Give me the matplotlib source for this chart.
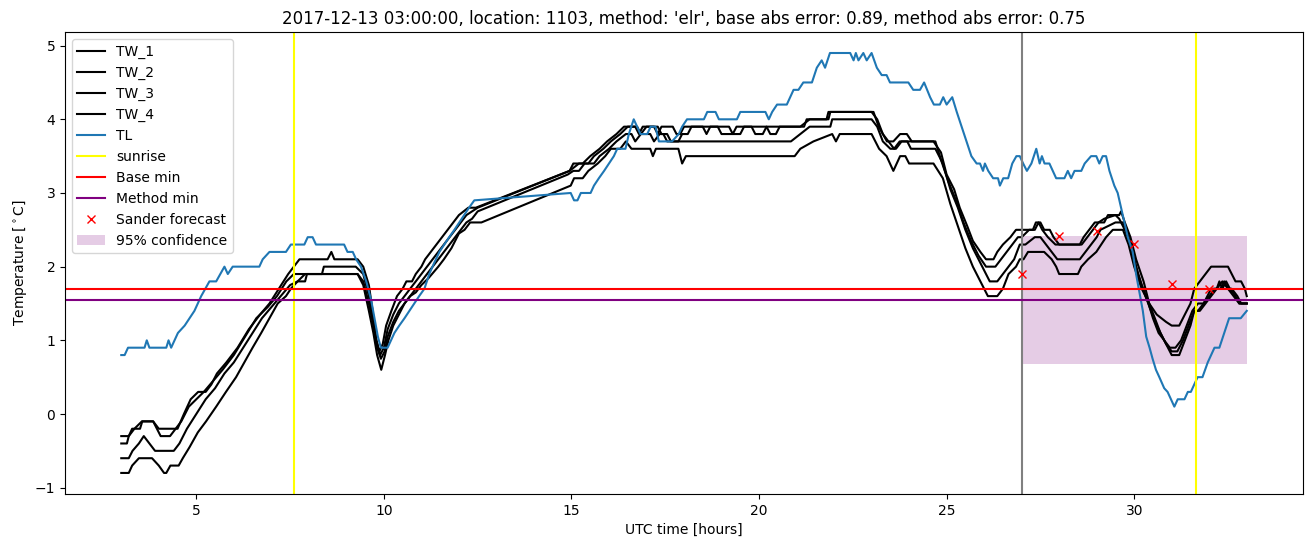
import numpy as np
import matplotlib
matplotlib.use('Agg')
import matplotlib.pyplot as plt

# (time [h], temperature [C])
tw1 = np.array([
    (3.0, -0.3), (3.2, -0.3), (3.29, -0.2), (3.5, -0.2), (3.56, -0.1), (3.85, -0.1), (4.0, -0.2), (4.5, -0.2),
    (4.67, 0.0), (4.85, 0.2), (5.05, 0.3), (5.25, 0.3), (5.4, 0.4), (5.55, 0.55), (5.8, 0.7), (6.1, 0.9),
    (6.4, 1.15), (6.7, 1.35), (6.95, 1.5), (7.2, 1.7), (7.45, 1.9), (7.6, 2.0), (7.75, 2.1), (8.5, 2.1),
    (8.6, 2.2), (8.68, 2.1), (9.3, 2.1), (9.45, 2.0), (9.6, 1.75), (9.7, 1.4), (9.8, 1.0), (9.88, 0.85),
    (9.97, 0.95), (10.06, 1.2), (10.2, 1.4), (10.35, 1.6), (10.5, 1.7), (10.6, 1.8), (10.75, 1.8), (10.85, 1.9),
    (11.0, 2.0), (11.1, 2.1), (11.25, 2.2), (11.4, 2.3), (11.55, 2.4), (11.7, 2.5), (11.85, 2.6), (12.0, 2.7),
    (12.25, 2.8), (12.45, 2.8), (14.95, 3.3), (15.05, 3.4), (15.3, 3.4), (15.5, 3.5), (15.75, 3.6), (15.95, 3.7),
    (16.2, 3.8), (16.4, 3.9), (16.7, 3.9), (16.8, 3.8), (16.9, 3.9), (17.2, 3.9), (17.3, 3.8), (17.4, 3.9),
    (17.7, 3.9), (17.8, 3.8), (17.9, 3.8), (18.0, 3.9), (18.5, 3.9), (18.6, 3.8), (18.7, 3.9), (19.2, 3.9),
    (19.3, 3.8), (19.4, 3.9), (21.2, 3.9), (21.27, 4.0), (21.8, 4.0), (21.85, 4.1), (23.05, 4.1), (23.19, 3.9),
    (23.41, 3.7), (23.58, 3.7), (23.76, 3.8), (23.94, 3.8), (24.07, 3.7), (24.65, 3.7), (24.85, 3.55), (25.0, 3.25),
    (25.2, 3.05), (25.35, 2.8), (25.55, 2.55), (25.7, 2.35), (25.9, 2.2), (26.05, 2.1), (26.25, 2.1), (26.35, 2.2),
    (26.5, 2.3), (26.7, 2.4), (26.85, 2.5), (27.3, 2.5), (27.38, 2.6), (27.5, 2.6), (27.6, 2.5), (27.75, 2.5),
    (27.85, 2.4), (28.0, 2.3), (28.55, 2.3), (28.65, 2.4), (28.8, 2.5), (28.95, 2.6), (29.2, 2.6), (29.3, 2.7),
    (29.6, 2.7), (29.65, 2.75), (29.75, 2.6), (29.9, 2.4), (30.05, 2.1), (30.25, 1.8), (30.4, 1.5), (30.55, 1.3),
    (30.7, 1.1), (30.85, 0.95), (31.0, 0.85), (31.15, 0.85), (31.3, 1.0), (31.45, 1.2), (31.6, 1.4), (31.7, 1.4),
    (31.85, 1.5), (31.95, 1.6), (32.05, 1.7), (32.2, 1.7), (32.27, 1.8), (32.35, 1.7), (32.45, 1.8), (32.55, 1.7),
    (32.7, 1.6), (32.8, 1.5), (33.0, 1.5),
])

tw2 = np.array([
    (3.0, -0.4), (3.15, -0.4), (3.2, -0.3), (3.35, -0.2), (3.55, -0.1), (3.85, -0.1), (3.95, -0.2), (4.05, -0.3),
    (4.3, -0.3), (4.45, -0.2), (4.6, -0.1), (4.8, 0.1), (5.0, 0.2), (5.2, 0.3), (5.45, 0.45), (5.7, 0.6),
    (6.0, 0.8), (6.3, 1.05), (6.6, 1.3), (6.9, 1.45), (7.15, 1.6), (7.4, 1.8), (7.6, 1.9), (8.35, 1.9),
    (8.4, 2.0), (9.25, 2.0), (9.45, 1.9), (9.6, 1.6), (9.7, 1.3), (9.8, 1.0), (9.9, 0.8), (10.0, 0.9),
    (10.1, 1.15), (10.25, 1.35), (10.4, 1.5), (10.55, 1.6), (10.7, 1.7), (10.85, 1.8), (11.0, 1.9), (11.15, 2.0),
    (11.3, 2.1), (11.45, 2.2), (11.6, 2.3), (11.75, 2.4), (11.9, 2.5), (12.05, 2.6), (12.2, 2.7), (12.35, 2.75),
    (12.5, 2.8), (14.95, 3.3), (15.2, 3.4), (15.45, 3.4), (15.6, 3.5), (15.85, 3.6), (16.05, 3.7), (16.3, 3.8),
    (16.5, 3.9), (16.75, 3.9), (16.85, 3.8), (17.0, 3.9), (17.3, 3.9), (17.4, 3.8), (17.55, 3.8), (17.65, 3.7),
    (17.85, 3.7), (17.95, 3.8), (18.1, 3.8), (18.2, 3.9), (18.9, 3.9), (19.0, 3.8), (19.5, 3.8), (19.6, 3.9),
    (19.8, 3.9), (19.9, 3.8), (20.1, 3.8), (20.2, 3.9), (20.3, 3.8), (20.45, 3.8), (20.55, 3.9), (21.1, 3.9),
    (21.35, 4.0), (21.85, 4.0), (21.9, 4.1), (23.0, 4.1), (23.15, 4.0), (23.3, 3.8), (23.45, 3.7), (23.6, 3.6),
    (23.75, 3.7), (24.7, 3.7), (24.85, 3.45), (25.05, 3.15), (25.25, 2.9), (25.45, 2.6), (25.65, 2.35), (25.85, 2.15),
    (26.05, 2.0), (26.3, 2.0), (26.45, 2.1), (26.6, 2.2), (26.75, 2.3), (26.9, 2.4), (27.0, 2.4), (27.2, 2.5),
    (27.35, 2.5), (27.45, 2.6), (27.55, 2.5), (27.7, 2.4), (27.9, 2.3), (28.6, 2.3), (28.75, 2.4), (28.9, 2.5),
    (29.05, 2.6), (29.2, 2.65), (29.5, 2.7), (29.6, 2.65), (29.75, 2.5), (29.9, 2.3), (30.05, 2.0), (30.2, 1.75),
    (30.35, 1.55), (30.5, 1.3), (30.65, 1.1), (30.8, 1.0), (30.95, 0.9), (31.1, 0.9), (31.25, 1.0), (31.4, 1.2),
    (31.55, 1.4), (31.7, 1.5), (31.85, 1.5), (32.0, 1.6), (32.15, 1.7), (32.3, 1.7), (32.4, 1.8), (32.5, 1.7),
    (32.6, 1.7), (32.75, 1.6), (32.85, 1.5), (33.0, 1.5),
])

tw3 = np.array([
    (3.0, -0.6), (3.2, -0.6), (3.3, -0.5), (3.47, -0.4), (3.6, -0.3), (3.75, -0.4), (3.9, -0.5), (4.4, -0.5),
    (4.55, -0.4), (4.75, -0.2), (5.0, 0.0), (5.25, 0.2), (5.5, 0.35), (5.75, 0.55), (6.0, 0.7), (6.25, 0.9),
    (6.5, 1.1), (6.75, 1.3), (7.0, 1.45), (7.25, 1.6), (7.5, 1.75), (7.7, 1.8), (7.9, 1.9), (9.3, 1.9),
    (9.45, 1.8), (9.6, 1.5), (9.72, 1.2), (9.82, 0.9), (9.92, 0.75), (10.02, 0.85), (10.1, 1.05), (10.25, 1.25),
    (10.4, 1.4), (10.55, 1.5), (10.7, 1.6), (10.85, 1.7), (11.0, 1.8), (11.15, 1.9), (11.3, 2.0), (11.45, 2.1),
    (11.6, 2.2), (11.75, 2.3), (11.9, 2.4), (12.05, 2.5), (12.2, 2.6), (12.35, 2.65), (12.5, 2.75), (14.9, 3.25),
    (15.05, 3.3), (15.2, 3.3), (15.35, 3.4), (15.6, 3.4), (15.75, 3.5), (16.0, 3.6), (16.2, 3.7), (16.45, 3.8),
    (16.6, 3.8), (16.7, 3.7), (16.85, 3.8), (17.1, 3.8), (17.2, 3.7), (17.35, 3.8), (17.45, 3.8), (17.55, 3.7),
    (20.85, 3.7), (21.1, 3.8), (21.35, 3.9), (21.9, 3.9), (21.95, 4.0), (23.0, 4.0), (23.15, 3.9), (23.3, 3.7),
    (23.5, 3.6), (23.65, 3.6), (23.8, 3.7), (23.95, 3.7), (24.05, 3.6), (24.7, 3.6), (24.9, 3.4), (25.1, 3.05),
    (25.3, 2.8), (25.5, 2.5), (25.7, 2.25), (25.9, 2.05), (26.15, 1.8), (26.35, 1.8), (26.5, 1.9), (26.65, 2.0),
    (26.8, 2.1), (26.95, 2.3), (27.1, 2.3), (27.35, 2.4), (27.5, 2.4), (27.65, 2.3), (27.8, 2.2), (27.95, 2.1),
    (28.55, 2.1), (28.7, 2.2), (28.85, 2.3), (29.0, 2.4), (29.1, 2.5), (29.5, 2.6), (29.7, 2.6), (29.8, 2.5),
    (29.95, 2.2), (30.1, 1.9), (30.3, 1.6), (30.45, 1.4), (30.6, 1.2), (30.8, 1.0), (31.0, 0.8), (31.2, 0.8),
    (31.35, 1.0), (31.5, 1.2), (31.6, 1.4), (31.75, 1.4), (31.9, 1.5), (32.05, 1.6), (32.2, 1.7), (32.35, 1.8),
    (32.5, 1.7), (32.65, 1.6), (32.8, 1.5), (33.0, 1.5),
])

tw4 = np.array([
    (3.0, -0.8), (3.2, -0.8), (3.29, -0.7), (3.47, -0.6), (3.82, -0.6), (4.0, -0.7), (4.14, -0.8), (4.2, -0.8),
    (4.31, -0.7), (4.53, -0.7), (4.64, -0.6), (4.82, -0.45), (5.04, -0.25), (5.26, -0.1), (5.53, 0.1), (5.79, 0.3),
    (6.06, 0.5), (6.28, 0.7), (6.5, 0.9), (6.73, 1.1), (6.95, 1.3), (7.17, 1.5), (7.39, 1.6), (7.52, 1.7),
    (7.7, 1.8), (7.9, 1.8), (7.95, 1.9), (9.3, 1.9), (9.45, 1.75), (9.6, 1.4), (9.72, 1.1), (9.82, 0.8),
    (9.93, 0.6), (10.03, 0.8), (10.12, 1.0), (10.25, 1.2), (10.4, 1.35), (10.55, 1.5), (10.7, 1.6), (10.85, 1.65),
    (11.0, 1.75), (11.2, 1.85), (11.45, 2.0), (11.6, 2.1), (11.8, 2.25), (12.0, 2.45), (12.15, 2.5), (12.3, 2.6),
    (12.6, 2.6), (14.98, 3.1), (15.07, 3.2), (15.3, 3.2), (15.45, 3.3), (15.7, 3.4), (15.9, 3.5), (16.05, 3.6),
    (16.3, 3.6), (16.45, 3.7), (16.6, 3.6), (17.1, 3.6), (17.17, 3.5), (17.25, 3.6), (17.85, 3.6), (17.95, 3.4),
    (18.05, 3.5), (20.95, 3.5), (21.1, 3.6), (21.45, 3.7), (21.95, 3.8), (22.05, 3.7), (22.15, 3.8), (23.0, 3.8),
    (23.2, 3.6), (23.4, 3.5), (23.58, 3.3), (23.76, 3.5), (23.9, 3.5), (24.0, 3.4), (24.65, 3.4), (24.9, 3.2),
    (25.1, 2.85), (25.3, 2.55), (25.5, 2.25), (25.7, 2.0), (25.9, 1.8), (26.1, 1.6), (26.35, 1.6), (26.5, 1.7),
    (26.65, 1.9), (26.85, 2.0), (26.95, 2.1), (27.05, 2.1), (27.17, 2.2), (27.6, 2.2), (27.8, 2.1), (27.92, 2.0),
    (28.0, 1.9), (28.5, 1.9), (28.59, 2.0), (28.77, 2.1), (28.99, 2.2), (29.12, 2.3), (29.25, 2.4), (29.43, 2.5),
    (29.7, 2.5), (29.85, 2.3), (30.0, 2.0), (30.2, 1.7), (30.4, 1.5), (30.6, 1.35), (30.85, 1.25), (31.0, 1.2),
    (31.2, 1.2), (31.35, 1.35), (31.5, 1.5), (31.6, 1.7), (31.75, 1.8), (31.9, 1.9), (32.05, 2.0), (32.5, 2.0),
    (32.6, 1.9), (32.7, 1.8), (32.85, 1.8), (32.95, 1.7), (33.0, 1.6),
])

tl = np.array([
    (3.0, 0.8), (3.09, 0.8), (3.18, 0.9), (3.62, 0.9), (3.68, 1.0), (3.75, 0.9), (4.2, 0.9), (4.26, 1.0),
    (4.33, 0.9), (4.51, 1.1), (4.69, 1.2), (4.82, 1.3), (4.95, 1.4), (5.13, 1.6), (5.35, 1.8), (5.53, 1.8),
    (5.75, 2.0), (5.84, 1.9), (5.97, 2.0), (6.68, 2.0), (6.77, 2.1), (6.95, 2.2), (7.39, 2.2), (7.52, 2.3),
    (7.88, 2.3), (7.97, 2.4), (8.1, 2.4), (8.19, 2.3), (8.94, 2.3), (9.03, 2.2), (9.17, 2.2), (9.26, 2.1),
    (9.39, 2.0), (9.53, 1.8), (9.66, 1.55), (9.75, 1.3), (9.84, 1.05), (9.92, 0.9), (10.1, 0.9), (10.19, 1.0),
    (10.28, 1.1), (10.41, 1.2), (10.55, 1.3), (10.68, 1.4), (10.81, 1.5), (10.94, 1.6), (11.08, 1.7), (11.21, 1.9),
    (11.34, 2.05), (11.48, 2.2), (11.61, 2.3), (11.74, 2.4), (11.88, 2.5), (12.01, 2.6), (12.14, 2.7), (12.27, 2.8),
    (12.41, 2.9), (14.98, 3.0), (15.07, 2.9), (15.16, 2.9), (15.25, 3.0), (15.51, 3.0), (15.6, 3.1), (15.73, 3.2),
    (15.87, 3.3), (16.0, 3.4), (16.13, 3.5), (16.22, 3.6), (16.44, 3.6), (16.53, 3.8), (16.66, 4.0), (16.75, 3.9),
    (16.84, 3.8), (17.02, 3.8), (17.11, 3.9), (17.24, 3.9), (17.33, 3.7), (17.68, 3.7), (17.86, 3.8), (17.95, 3.9),
    (18.08, 4.0), (18.53, 4.0), (18.62, 4.1), (18.84, 4.1), (18.93, 4.0), (19.41, 4.0), (19.5, 4.1), (20.17, 4.1),
    (20.26, 4.0), (20.35, 4.1), (20.48, 4.2), (20.74, 4.2), (20.92, 4.4), (21.05, 4.4), (21.18, 4.5), (21.41, 4.5),
    (21.54, 4.7), (21.67, 4.8), (21.76, 4.7), (21.89, 4.9), (22.43, 4.9), (22.52, 4.8), (22.58, 4.9), (22.65, 4.8),
    (22.78, 4.9), (22.87, 4.8), (23.0, 4.9), (23.14, 4.7), (23.27, 4.6), (23.4, 4.6), (23.49, 4.5), (23.98, 4.5),
    (24.11, 4.4), (24.29, 4.4), (24.4, 4.5), (24.56, 4.3), (24.66, 4.2), (24.82, 4.2), (24.91, 4.3), (25.0, 4.2),
    (25.15, 4.3), (25.27, 4.1), (25.4, 3.9), (25.53, 3.7), (25.66, 3.5), (25.8, 3.4), (25.89, 3.4), (25.97, 3.3),
    (26.02, 3.4), (26.11, 3.3), (26.24, 3.2), (26.37, 3.2), (26.42, 3.1), (26.51, 3.2), (26.64, 3.2), (26.75, 3.4),
    (26.86, 3.5), (26.95, 3.5), (27.04, 3.4), (27.14, 3.3), (27.26, 3.4), (27.39, 3.6), (27.48, 3.4), (27.54, 3.5),
    (27.61, 3.4), (27.74, 3.4), (27.83, 3.3), (27.92, 3.2), (28.14, 3.2), (28.23, 3.3), (28.32, 3.2), (28.41, 3.3),
    (28.59, 3.3), (28.68, 3.4), (28.85, 3.5), (28.99, 3.5), (29.07, 3.4), (29.16, 3.5), (29.25, 3.5), (29.34, 3.3),
    (29.47, 3.1), (29.56, 3.0), (29.65, 2.8), (29.74, 2.6), (29.83, 2.4), (29.96, 2.2), (30.05, 1.9), (30.14, 1.65),
    (30.23, 1.4), (30.32, 1.05), (30.41, 0.9), (30.49, 0.75), (30.58, 0.6), (30.67, 0.5), (30.8, 0.35), (30.89, 0.3),
    (30.98, 0.2), (31.07, 0.1), (31.16, 0.2), (31.34, 0.2), (31.43, 0.3), (31.51, 0.3), (31.6, 0.4), (31.69, 0.5),
    (31.82, 0.5), (31.96, 0.7), (32.14, 0.9), (32.27, 0.9), (32.4, 1.1), (32.53, 1.3), (32.84, 1.3), (33.0, 1.4),
])

sunrise = [7.6, 31.65]
forecast_start = 27.0
base_min = 1.70
method_min = 1.55
sander_hours = [27, 28, 29, 30, 31, 32]
sander_temp = [1.9, 2.42, 2.49, 2.31, 1.76, 1.70]
conf_hours = [27, 33]
conf_low = 0.68
conf_high = 2.42

title = "2017-12-13 03:00:00, location: 1103, method: 'elr', base abs error: 0.89, method abs error: 0.75"

fig = plt.figure(figsize=(13.13, 5.47), dpi=100)
ax = fig.add_subplot(111)
fig.subplots_adjust(left=0.0495, right=0.9924, top=0.9415, bottom=0.097)

for name, series in zip(['TW_1', 'TW_2', 'TW_3', 'TW_4'], [tw1, tw2, tw3, tw4]):
    ax.plot(series[:, 0], series[:, 1], color='black', label=name)
ax.plot(tl[:, 0], tl[:, 1], color='tab:blue', label='TL')

ax.axvline(sunrise[0], color='yellow', label='sunrise')
ax.axvline(sunrise[1], color='yellow')
ax.axvline(forecast_start, color='grey')
ax.axhline(base_min, color='red', label='Base min')
ax.axhline(method_min, color='purple', label='Method min')
ax.plot(sander_hours, sander_temp, 'x', color='red', label='Sander forecast')
ax.fill_between(conf_hours, conf_low, conf_high, color='purple', alpha=0.2, linewidth=0, label='95% confidence')

ax.set_title(title)
ax.set_xlabel('UTC time [hours]')
ax.set_ylabel(r'Temperature [$^\circ$C]')
ax.legend(loc='upper left')

fig.savefig('out.png', dpi=100)
plt.close(fig)
